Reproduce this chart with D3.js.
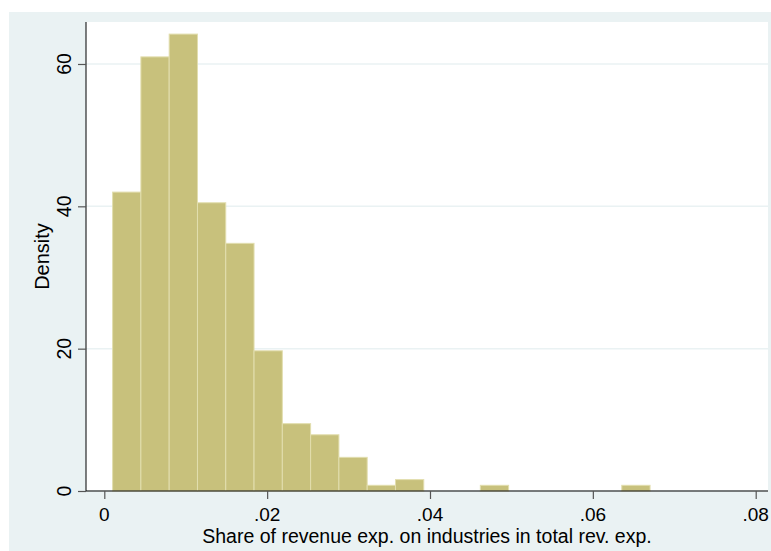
<!DOCTYPE html>
<html>
<meta charset="utf-8">
<head>
<title>Histogram - share of revenue exp. on industries</title>
<style>
body { margin: 0; background: #fff; }
text { font-family: "Liberation Sans", Arial, sans-serif; fill: #000; }
</style>
</head>
<body>
<script src="https://d3js.org/d3.v7.min.js"></script>
<script>

// histogram bins: start, width, density per bin
var binStart = 0.00102;
var binWidth = 0.003474;
var densities = [42.0, 61.0, 64.2, 40.5, 34.8, 19.7, 9.46, 7.9, 4.73, 0.8, 1.6,
                 0, 0, 0.8, 0, 0, 0, 0, 0.8];
var xTicks = [0, 0.02, 0.04, 0.06, 0.08];
var xTickLabels = ["0", ".02", ".04", ".06", ".08"];
var yTicks = [0, 20, 40, 60];
var xTitle = "Share of revenue exp. on industries in total rev. exp.";
var yTitle = "Density";

var W = 771, H = 551;
// plot region in pixels
var plot = {left: 86, right: 768, top: 22, bottom: 491};

var svg = d3.select("body").append("svg")
    .attr("width", W)
    .attr("height", H);

// graph region background
svg.append("rect")
    .attr("x", 9).attr("y", 12)
    .attr("width", W - 9).attr("height", H - 12)
    .style("fill", "#eaf2f3");

svg.append("rect")
    .attr("x", plot.left).attr("y", plot.top)
    .attr("width", plot.right - plot.left)
    .attr("height", plot.bottom - plot.top)
    .style("fill", "#fff");

var x = d3.scaleLinear()
    .domain([0, 0.08])
    .range([104.3, 755.7]);

var y = d3.scaleLinear()
    .domain([0, 65.9])
    .range([plot.bottom, plot.top]);

// grid lines
svg.append("g").selectAll("line")
  .data(yTicks).enter()
  .append("line")
    .attr("x1", plot.left).attr("x2", plot.right)
    .attr("y1", d => y(d)).attr("y2", d => y(d))
    .style("stroke", "#eaf2f3")
    .style("stroke-width", 1.5);

// bars
var bins = densities.map(function(d, i) {
  return {x0: binStart + i * binWidth, x1: binStart + (i + 1) * binWidth, v: d};
}).filter(d => d.v > 0);

svg.append("g").selectAll("rect")
  .data(bins).enter()
  .append("rect")
    .attr("x", d => x(d.x0))
    .attr("width", d => x(d.x1) - x(d.x0))
    .attr("y", d => y(d.v))
    .attr("height", d => y(0) - y(d.v))
    .style("fill", "#c8c17c")
    .style("stroke", "#e2deae")
    .style("stroke-width", 1);

// y axis
var yAxis = svg.append("g")
    .attr("transform", "translate(" + plot.left + ",0)")
    .call(d3.axisLeft(y).tickValues(yTicks).tickSize(8).tickFormat(""));
yAxis.select(".domain").attr("d", "M0," + plot.top + "V" + plot.bottom).style("stroke", "#000");
yAxis.selectAll(".tick line").style("stroke", "#555").style("stroke-width", 1.2);

svg.append("g").selectAll("text")
  .data(yTicks).enter()
  .append("text")
    .attr("transform", d => "translate(70.5," + y(d) + ") rotate(-90)")
    .style("text-anchor", "middle")
    .style("font-size", "19.5px")
    .text(d => d);

// x axis
var xAxis = svg.append("g")
    .attr("transform", "translate(0," + plot.bottom + ")")
    .call(d3.axisBottom(x).tickValues(xTicks).tickSize(8).tickFormat(""));
xAxis.select(".domain").attr("d", "M" + plot.left + ",0H" + plot.right).style("stroke", "#000");
xAxis.selectAll(".tick line").style("stroke", "#555").style("stroke-width", 1.2);

svg.append("g").selectAll("text")
  .data(xTicks).enter()
  .append("text")
    .attr("x", d => x(d))
    .attr("y", 520.5)
    .style("text-anchor", "middle")
    .style("font-size", "19px")
    .text((d, i) => xTickLabels[i]);

// titles
svg.append("text")
    .attr("x", (plot.left + plot.right) / 2)
    .attr("y", 542.5)
    .style("text-anchor", "middle")
    .style("font-size", "19.5px")
    .text(xTitle);

svg.append("text")
    .attr("transform", "translate(49," + (plot.top + plot.bottom) / 2 + ") rotate(-90)")
    .style("text-anchor", "middle")
    .style("font-size", "20px")
    .text(yTitle);

</script>
</body>
</html>
